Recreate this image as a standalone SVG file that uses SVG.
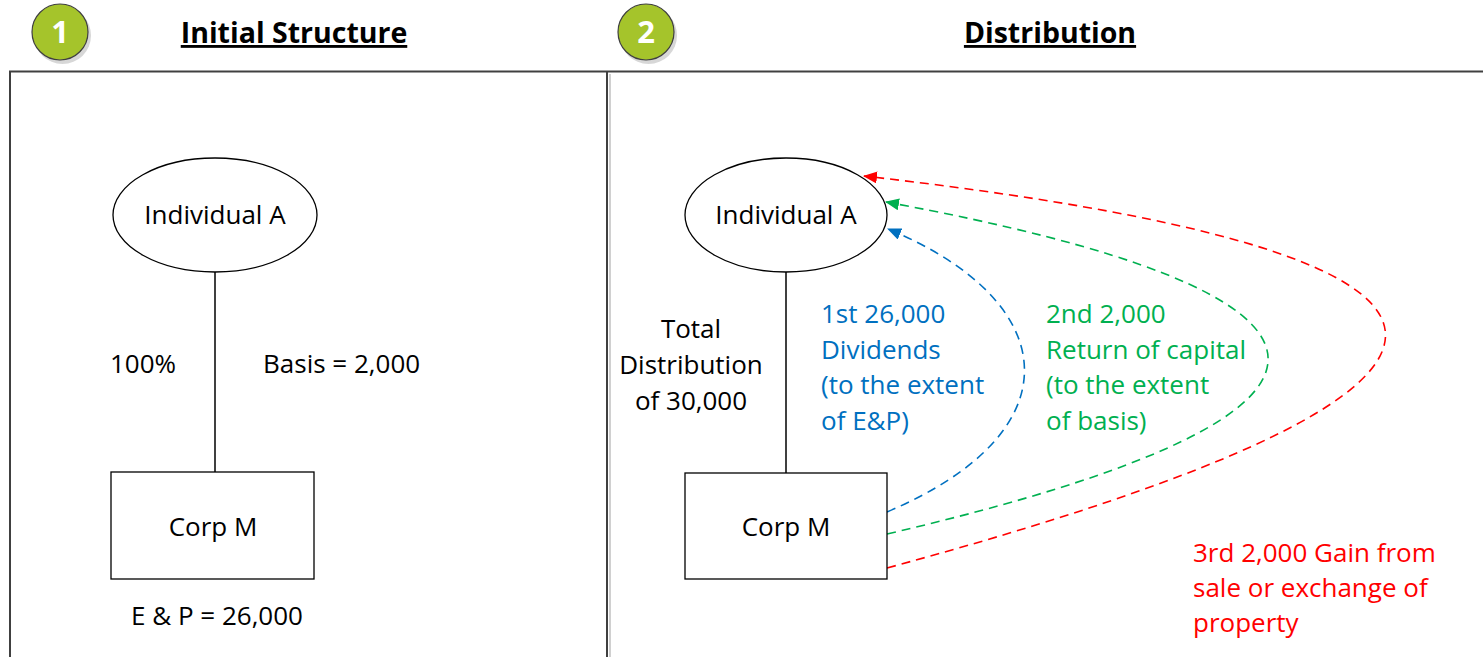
<svg xmlns="http://www.w3.org/2000/svg" width="1483" height="657" viewBox="0 0 1483 657">
<defs>
<style>
text{font-family:"Open Sans","Noto Sans","Liberation Sans",sans-serif;font-size:26px;fill:#000}
.title{font-size:28.5px;font-weight:bold;text-decoration:underline;text-anchor:middle}
.num{font-size:31px;font-weight:bold;fill:#fff;text-anchor:middle}
.mid{text-anchor:middle}
.blue{fill:#0070C0}
.green{fill:#00B050}
.red{fill:#FF0000}
.shape{fill:#fff;stroke:#000;stroke-width:1.3}
.conn{fill:none;stroke:#000;stroke-width:1.5}
.dash{fill:none;stroke-width:1.6;stroke-dasharray:9 6}
.badge{fill:#A5C42B;stroke:#3f3f3f;stroke-width:1.2}
.shadow{fill:#bdbdbd;opacity:0.6}
.frame{stroke:#404040;stroke-width:2;fill:none}
</style>
<marker id="aB" viewBox="0 0 14 12" refX="13" refY="6" markerWidth="14" markerHeight="12" markerUnits="userSpaceOnUse" orient="auto"><path d="M0,0L14,6L0,12Z" fill="#0070C0"/></marker>
<marker id="aG" viewBox="0 0 14 12" refX="13" refY="6" markerWidth="14" markerHeight="12" markerUnits="userSpaceOnUse" orient="auto"><path d="M0,0L14,6L0,12Z" fill="#00B050"/></marker>
<marker id="aR" viewBox="0 0 14 12" refX="13" refY="6" markerWidth="14" markerHeight="12" markerUnits="userSpaceOnUse" orient="auto"><path d="M0,0L14,6L0,12Z" fill="#FF0000"/></marker>
</defs>
<rect width="1483" height="657" fill="#fff"/>
<g id="frame">
<path class="frame" d="M10,700V71.5H1490"/>
<line x1="610" y1="74" x2="610" y2="700" stroke="#d0d0d0" stroke-width="2"/>
<line class="frame" x1="607" y1="71" x2="607" y2="700"/>
</g>
<g id="header1">
<circle class="shadow" cx="62.5" cy="35.5" r="28.5"/>
<circle class="badge" cx="60" cy="32" r="28"/>
<text class="num" x="60" y="43">1</text>
<text class="title" x="294" y="43">Initial Structure</text>
</g>
<g id="header2">
<circle class="shadow" cx="648.5" cy="35.5" r="28.5"/>
<circle class="badge" cx="646" cy="32" r="28"/>
<text class="num" x="646" y="43">2</text>
<text class="title" x="1050" y="43">Distribution</text>
</g>
<g id="connectors">
<line class="conn" x1="215" y1="272" x2="215" y2="472"/>
<line class="conn" x1="786" y1="272" x2="786" y2="473"/>
<path class="dash" stroke="#0070C0" marker-end="url(#aB)" d="M887,512C1080,430 1060,300 888,229"/>
<path class="dash" stroke="#00B050" marker-end="url(#aG)" d="M887,534C1420,410 1370,291 886,202"/>
<path class="dash" stroke="#FF0000" marker-end="url(#aR)" d="M887,568C1580,380 1530,252 864,176"/>
</g>
<g id="indA1">
<ellipse class="shape" cx="215" cy="215" rx="102" ry="57"/>
<text class="mid" x="215" y="224">Individual A</text>
</g>
<g id="corpM1">
<rect class="shape" x="111" y="472" width="203" height="107"/>
<text class="mid" x="213" y="536">Corp M</text>
</g>
<g id="labels1">
<text x="110" y="373">100%</text>
<text x="263" y="373">Basis = 2,000</text>
<text class="mid" x="217" y="625">E &amp; P = 26,000</text>
</g>
<g id="indA2">
<ellipse class="shape" cx="786" cy="215" rx="101" ry="57"/>
<text class="mid" x="786" y="224">Individual A</text>
</g>
<g id="corpM2">
<rect class="shape" x="685" y="473" width="202" height="106"/>
<text class="mid" x="786" y="536">Corp M</text>
</g>
<g id="total">
<text class="mid" x="691" y="338">Total</text>
<text class="mid" x="691" y="374">Distribution</text>
<text class="mid" x="691" y="410">of 30,000</text>
</g>
<g id="blueLabel">
<text class="blue" x="821" y="323">1st 26,000</text>
<text class="blue" x="821" y="358.5">Dividends</text>
<text class="blue" x="821" y="394">(to the extent</text>
<text class="blue" x="821" y="429.5">of E&amp;P)</text>
</g>
<g id="greenLabel">
<text class="green" x="1046" y="323">2nd 2,000</text>
<text class="green" x="1046" y="358.5">Return of capital</text>
<text class="green" x="1046" y="394">(to the extent</text>
<text class="green" x="1046" y="429.5">of basis)</text>
</g>
<g id="redLabel">
<text class="red" x="1193" y="562">3rd 2,000 Gain from</text>
<text class="red" x="1193" y="597">sale or exchange of</text>
<text class="red" x="1193" y="632">property</text>
</g>
</svg>
